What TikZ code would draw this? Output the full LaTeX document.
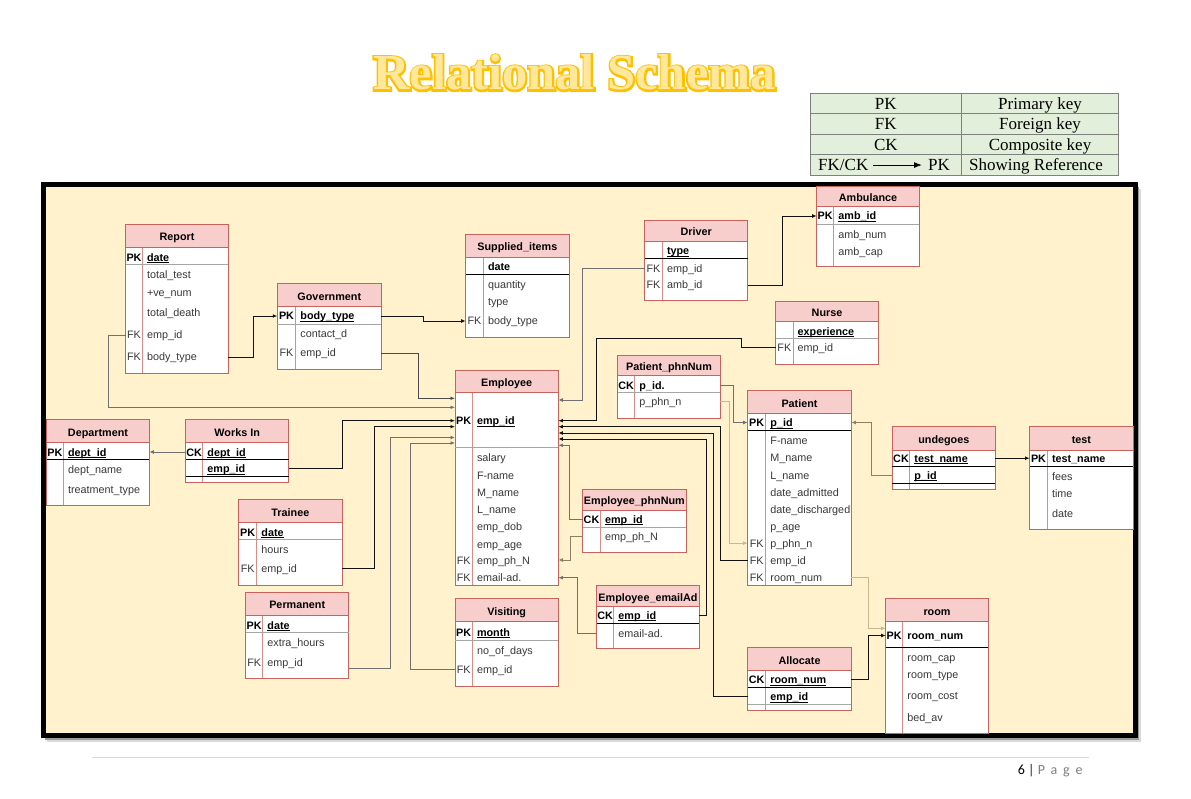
\documentclass[tikz,border=0pt]{standalone}
\usepackage{fontspec}
\setmainfont{Liberation Sans}
\newfontfamily\legendfont{Liberation Serif}
\newfontfamily\titlefill{Liberation Serif}
\newfontfamily\titleline{Liberation Serif}[BoldFeatures={FakeBold=7}]
\newfontfamily\pagefont{Carlito}
\usetikzlibrary{arrows.meta,calc}

\definecolor{hdrfill}{HTML}{F8CECC}
\definecolor{eborderc}{HTML}{C8625C}
\definecolor{edivc}{HTML}{D98C88}
\definecolor{txtgray}{HTML}{383838}
\definecolor{framefill}{HTML}{FFF2CC}
\definecolor{lgfill}{HTML}{E2EFDA}
\definecolor{lgline}{HTML}{7F7F7F}
\definecolor{ttlout}{HTML}{FFC000}
\definecolor{ttlin}{HTML}{FFE89C}
\definecolor{cblack}{HTML}{111111}
\definecolor{cdark}{HTML}{4A4A4A}
\definecolor{cgray}{HTML}{707070}
\definecolor{ctan}{HTML}{C9B98A}
\definecolor{cbrown}{HTML}{8C8063}
\definecolor{pggray}{HTML}{7F7F7F}
\definecolor{pgbar}{HTML}{1F1F50}
\definecolor{footc}{HTML}{D9D9D9}

\newcommand\efont{\fontsize{10.8}{12}\selectfont}
\newcommand\ul[1]{\setbox0=\hbox{#1}\rlap{\rule[-1.7pt]{\wd0}{0.7pt}}\box0}

\tikzset{
  ebox/.style={rectangle, fill=white, draw=none, inner sep=0pt, outer sep=0pt},
  eborder/.style={draw=eborderc, line width=0.8pt},
  ediv/.style={draw=edivc, line width=0.8pt},
  sepk/.style={draw=black, line width=0.9pt},
  sepg/.style={draw=black!35, line width=0.9pt},
  etitle/.style={anchor=base, inner sep=0pt, font=\efont\bfseries, text=black},
  kpk/.style={anchor=base, inner sep=0pt, font=\efont\bfseries, text=black},
  kfk/.style={anchor=base, inner sep=0pt, font=\efont, text=txtgray},
  pa/.style={anchor=base west, inner sep=0pt, font=\efont, text=txtgray},
  ka/.style={anchor=base west, inner sep=0pt, font=\efont\bfseries, text=black},
  conn/.style={line width=0.9pt, -{Latex[length=4.5pt,width=3.8pt]}},
  lgtxt/.style={anchor=base, inner sep=0pt, font=\legendfont\fontsize{17}{18}\selectfont},
}

% table: name, x1, y1, x2, y2, header bottom, divider x, title
\newcommand\etable[8]{%
  \gdef\curx{#2}\gdef\curd{#7}\gdef\curr{#4}%
  \node[ebox, anchor=north west, minimum width={#4-#2}, minimum height={#5-#3}] (#1) at (#2,#3) {};
  \fill[hdrfill] (#2,#3) rectangle (#4,#6);
  \draw[ediv] (#7,#6) -- (#7,#5);
  \draw[eborder] (#2,#3) rectangle (#4,#5);
  \draw[eborder] (#2,#6) -- (#4,#6);
  \node[etitle] (#1-t) at ({(#2+#4)/2},{(#3+#6)/2+5}) {#8};
}
\newcommand\esep[2]{\draw[#1] (\curx,#2) -- (\curr,#2);}
% row with key: id, y, key style, key text, attr style, attr text
\newcommand\krow[6]{%
  \coordinate (#1) at (\curd,#2);
  \node[#3] (#1-k) at ({(\curx+\curd)/2},{#2+4}) {#4};
  \node[#5] (#1-a) at ({\curd+4.5},{#2+4}) {#6};
}
% row without key: id, y, attr style, attr text
\newcommand\prow[4]{%
  \coordinate (#1) at (\curd,#2);
  \node[#3] (#1-a) at ({\curd+4.5},{#2+4}) {#4};
}

\begin{document}
\begin{tikzpicture}[x=1pt,y=-1pt]
\useasboundingbox (0,0) rectangle (1191,799);
\fill[white] (0,0) rectangle (1191,799);

% title
\node[anchor=base, inner sep=0pt, text=ttlout] (ttl-o) at (574.5,90) {\titleline\bfseries\fontsize{50.5}{52}\selectfont Relational Schema};
\node[anchor=base, inner sep=0pt, text=ttlin] (ttl) at (574.5,90) {\titlefill\bfseries\fontsize{50.5}{52}\selectfont Relational Schema};

% legend
\fill[lgfill] (810.3,93.7) rectangle (1118.7,175.3);
\draw[lgline, line width=1pt] (810.3,93.7) rectangle (1118.7,175.3)
  (961.3,93.7) -- (961.3,175.3)
  (810.3,113.7) -- (1118.7,113.7)
  (810.3,134.3) -- (1118.7,134.3)
  (810.3,154.7) -- (1118.7,154.7);
\node[lgtxt] (lg-pk) at (885.8,109.3) {PK};
\node[lgtxt] (lg-pkd) at (1040,109.3) {Primary key};
\node[lgtxt] (lg-fk) at (885.8,130) {FK};
\node[lgtxt] (lg-fkd) at (1040,130) {Foreign key};
\node[lgtxt] (lg-ck) at (885.8,150.3) {CK};
\node[lgtxt] (lg-ckd) at (1040,150.3) {Composite key};
\node[lgtxt, anchor=base west, text height=11.3pt, text depth=0pt] (lg-fkck) at (818,170.7) {FK/CK};
\node[lgtxt, anchor=base west, text height=11.3pt, text depth=0pt] (lg-ref) at (928,170.7) {PK};
\node[lgtxt] (lg-refd) at (1036,170.7) {Showing Reference};
\draw[line width=1pt, -{Latex[length=8pt,width=6pt]}, shorten <=5pt, shorten >=6pt] (lg-fkck.east) -- (lg-ref.west);

% frame
\fill[black!15] (47,189) rectangle (1141,742);
\fill[black!40] (45,187) rectangle (1139,740);
\fill[framefill] (43.5,184.5) rectangle (1135.5,735.5);
\draw[line width=5pt, black] (43.5,184.5) rectangle (1135.5,735.5);

% ---- tables ----
\etable{rpt}{125.7}{224.3}{228.3}{373.3}{247.7}{142.3}{Report}
\esep{sepg}{264.3}
\krow{rpt-date}{257.3}{kpk}{PK}{ka}{\ul{date}}
\prow{rpt-tt}{275}{pa}{total\_test}
\prow{rpt-ve}{292.3}{pa}{+ve\_num}
\prow{rpt-td}{312.3}{pa}{total\_death}
\krow{rpt-emp}{335}{kfk}{FK}{pa}{emp\_id}
\krow{rpt-body}{357}{kfk}{FK}{pa}{body\_type}

\etable{gov}{277.3}{283.7}{381.3}{369.3}{306.7}{295.7}{Government}
\esep{sepg}{324}
\krow{gov-body}{316}{kpk}{PK}{ka}{\ul{body\_type}}
\prow{gov-cd}{334}{pa}{contact\_d}
\krow{gov-emp}{353}{kfk}{FK}{pa}{emp\_id}

\etable{sup}{465.7}{234.3}{569}{337}{257.7}{483.3}{Supplied\_items}
\esep{sepk}{274.7}
\prow{sup-date}{267}{ka}{date}
\prow{sup-q}{284.3}{pa}{quantity}
\prow{sup-type}{301.7}{pa}{type}
\krow{sup-body}{321}{kfk}{FK}{pa}{body\_type}

\etable{drv}{644.7}{220.7}{747.7}{300.7}{241.3}{662.3}{Driver}
\esep{sepk}{258.7}
\prow{drv-type}{251}{ka}{\ul{type}}
\krow{drv-emp}{268.3}{kfk}{FK}{pa}{emp\_id}
\krow{drv-amb}{285}{kfk}{FK}{pa}{amb\_id}

\etable{amb}{816.7}{186.7}{919.3}{266}{206.7}{833.7}{Ambulance}
\esep{sepg}{224.3}
\krow{amb-id}{216}{kpk}{PK}{ka}{\ul{amb\_id}}
\prow{amb-num}{234.3}{pa}{amb\_num}
\prow{amb-cap}{251.3}{pa}{amb\_cap}

\etable{nur}{775.7}{301.3}{878.3}{364}{321.7}{793}{Nurse}
\esep{sepg}{338.7}
\prow{nur-exp}{331.3}{ka}{\ul{experience}}
\krow{nur-emp}{347.7}{kfk}{FK}{pa}{emp\_id}

\etable{ppn}{617.7}{355}{720.3}{418}{375.7}{634.7}{Patient\_phnNum}
\esep{sepg}{392.3}
\krow{ppn-pid}{385}{kpk}{CK}{ka}{p\_id.}
\prow{ppn-phn}{401.8}{pa}{p\_phn\_n}

\etable{emp}{455}{370}{558.3}{585}{392.7}{472.3}{Employee}
\esep{sepg}{447.7}
\krow{emp-id}{420.7}{kpk}{PK}{ka}{\ul{emp\_id}}
\prow{emp-sal}{457.7}{pa}{salary}
\prow{emp-fn}{475}{pa}{F-name}
\prow{emp-mn}{492.3}{pa}{M\_name}
\prow{emp-ln}{509.3}{pa}{L\_name}
\prow{emp-dob}{526.3}{pa}{emp\_dob}
\prow{emp-age}{544}{pa}{emp\_age}
\krow{emp-phn}{560}{kfk}{FK}{pa}{emp\_ph\_N}
\krow{emp-email}{577.7}{kfk}{FK}{pa}{email-ad.}

\etable{dep}{46.7}{419.3}{149.3}{505.3}{442.7}{63.3}{Department}
\esep{sepk}{459.3}
\krow{dep-id}{452}{kpk}{PK}{ka}{\ul{dept\_id}}
\prow{dep-name}{469.3}{pa}{dept\_name}
\prow{dep-tt}{489.3}{pa}{treatment\_type}

\etable{wrk}{185.7}{419.3}{288.7}{482}{442.7}{202.7}{Works In}
\esep{sepk}{459.3}
\esep{sepk}{476.7}
\krow{wrk-dept}{452}{kpk}{CK}{ka}{\ul{dept\_id}}
\prow{wrk-emp}{468.5}{ka}{\ul{emp\_id}}

\etable{trn}{238.7}{499.3}{342}{585}{522.7}{256.7}{Trainee}
\esep{sepg}{539.3}
\krow{trn-date}{532}{kpk}{PK}{ka}{\ul{date}}
\prow{trn-h}{549.3}{pa}{hours}
\krow{trn-emp}{568.7}{kfk}{FK}{pa}{emp\_id}

\etable{prm}{245.7}{592.3}{348.7}{678.3}{615.3}{262.7}{Permanent}
\esep{sepg}{632.3}
\krow{prm-date}{625}{kpk}{PK}{ka}{\ul{date}}
\prow{prm-eh}{642.3}{pa}{extra\_hours}
\krow{prm-emp}{662.3}{kfk}{FK}{pa}{emp\_id}

\etable{vis}{455}{598.3}{558.3}{686}{621.7}{472.3}{Visiting}
\esep{sepg}{640.3}
\krow{vis-month}{632}{kpk}{PK}{ka}{\ul{month}}
\prow{vis-nod}{650.3}{pa}{no\_of\_days}
\krow{vis-emp}{669}{kfk}{FK}{pa}{emp\_id}

\etable{eph}{582.7}{489.3}{686}{552.3}{510}{600.3}{Employee\_phnNum}
\esep{sepg}{527.3}
\krow{eph-emp}{519}{kpk}{CK}{ka}{\ul{emp\_id}}
\prow{eph-phn}{536}{pa}{emp\_ph\_N}

\etable{eem}{596.7}{585.7}{699.3}{648.3}{606.7}{613.7}{Employee\_emailAd}
\esep{sepk}{623.3}
\krow{eem-emp}{615.3}{kpk}{CK}{ka}{\ul{emp\_id}}
\prow{eem-email}{633}{pa}{email-ad.}

\etable{pat}{747.7}{390.7}{851.3}{585}{413.3}{765.7}{Patient}
\esep{sepk}{430.7}
\krow{pat-pid}{422.5}{kpk}{PK}{ka}{\ul{p\_id}}
\prow{pat-fn}{440.3}{pa}{F-name}
\prow{pat-mn}{457.7}{pa}{M\_name}
\prow{pat-ln}{475}{pa}{L\_name}
\prow{pat-da}{492}{pa}{date\_admitted}
\prow{pat-dd}{509.3}{pa}{date\_discharged}
\prow{pat-age}{526.7}{pa}{p\_age}
\krow{pat-phn}{543.2}{kfk}{FK}{pa}{p\_phn\_n}
\krow{pat-emp}{560}{kfk}{FK}{pa}{emp\_id}
\krow{pat-room}{577.5}{kfk}{FK}{pa}{room\_num}

\etable{und}{892.3}{426.7}{995.3}{489}{450}{909.7}{undegoes}
\esep{sepk}{466.7}
\esep{sepk}{483.7}
\krow{und-tn}{458.2}{kpk}{CK}{ka}{\ul{test\_name}}
\prow{und-pid}{475}{ka}{\ul{p\_id}}

\etable{tst}{1029.7}{426.7}{1133}{529.3}{450}{1047.3}{test}
\esep{sepk}{466.7}
\krow{tst-tn}{458.2}{kpk}{PK}{ka}{test\_name}
\prow{tst-fees}{476.3}{pa}{fees}
\prow{tst-time}{493.3}{pa}{time}
\prow{tst-date}{513.3}{pa}{date}

\etable{rom}{885.7}{598.7}{988.3}{733.3}{621.7}{902.7}{room}
\esep{sepk}{647.3}
\krow{rom-num}{635.5}{kpk}{PK}{ka}{room\_num}
\prow{rom-cap}{657.3}{pa}{room\_cap}
\prow{rom-type}{674.7}{pa}{room\_type}
\prow{rom-cost}{695}{pa}{room\_cost}
\prow{rom-bed}{717.7}{pa}{bed\_av}

\etable{alc}{747.7}{647.3}{851.3}{710}{670.7}{765.7}{Allocate}
\esep{sepk}{687.3}
\esep{sepg}{704.3}
\krow{alc-room}{679.7}{kpk}{CK}{ka}{\ul{room\_num}}
\prow{alc-emp}{696.5}{ka}{\ul{emp\_id}}

% ---- connectors ----
\draw[conn, cblack] (rpt.east |- rpt-body) -- ++(25,0) |- (gov.west |- gov-body);
\draw[conn, cgray] (rpt.west |- rpt-emp) -- ++(-17.4,0) |- ($(emp.north west)+(0,37.3)$);
\draw[conn, cblack] (gov.east |- gov-body) -- ++(42,0) |- (sup.west |- sup-body);
\draw[conn, cdark] (gov.east |- gov-emp) -- ++(37,0) |- ($(emp.north west)+(0,28.3)$);
\draw[conn, cgray] (wrk.west |- wrk-dept) -- (dep.east |- dep-id);
\draw[conn, cblack] (wrk.east |- wrk-emp) -- ++(53.6,0) |- (emp.west |- emp-id);
\draw[conn, cblack] (trn.east |- trn-emp) -- ++(32,0) |- ($(emp.north west)+(0,56.7)$);
\draw[conn, cgray] ($(prm.east |- prm-emp)+(0,6)$) -- ++(41.3,0) |- ($(emp.north west)+(0,67.5)$);
\draw[conn, cgray] (vis.west |- vis-emp) -- ++(-44.3,0) |- ($(emp.north west)+(0,73)$);
\draw[conn, cgray] (drv.west |- drv-emp) -- ++(-62,0) |- ($(emp.north east)+(0,30)$);
\draw[conn, cblack] (drv.east |- drv-amb) -- ++(34.6,0) |- (amb.west |- amb-id);
\draw[conn, cblack] (nur.west |- nur-emp) -- ++(-34.4,0) -- ++(0,-9) -- ++(-144.6,0) |- (emp.east |- emp-id);
\draw[conn, cgray] (ppn.east |- ppn-pid) -- ++(13.4,0) |- (pat.west |- pat-pid);
\draw[conn, ctan] (ppn.east |- ppn-phn) -- ++(8.7,0) |- (pat.west |- pat-phn);
\draw[conn, cblack] (pat.west |- pat-emp) -- ++(-27.4,0) |- ($(emp.north east)+(0,56.7)$);
\draw[conn, cblack] (alc.west |- alc-emp) -- ++(-34.4,0) |- ($(emp.north east)+(0,63)$);
\draw[conn, cblack] (eem.east |- eem-emp) -- ++(6.7,0) |- ($(emp.north east)+(0,69)$);
\draw[conn, cgray] (eph.west |- eph-emp) -- ++(-13.4,0) |- ($(emp.north east)+(0,75.3)$);
\draw[conn, cbrown] (eph.west |- eph-phn) -- ++(-12,0) |- (emp.east |- emp-phn);
\draw[conn, cgray] (eem.west |- eem-email) -- ++(-19,0) |- (emp.east |- emp-email);
\draw[conn, cbrown] (und.west |- und-pid) -- ++(-21,0) |- (pat.east |- pat-pid);
\draw[conn, cblack] (und.east |- und-tn) -- (tst.west |- tst-tn);
\draw[conn, ctan] (pat.east |- pat-room) -- ++(17,0) |- ($(rom.north west)+(0,29.6)$);
\draw[conn, cblack] (alc.east |- alc-room) -- ++(17,0) |- (rom.west |- rom-num);

% footer
\draw[footc, line width=1pt] (92.3,757) coordinate (ft-a) -- (1089,757) coordinate (ft-b);
\node[anchor=base west, inner sep=0pt, font=\pagefont\fontsize{14}{16}\selectfont] (pg) at (1017.7,774)
  {6 {\color{pgbar}|} {\color{pggray}\addfontfeature{LetterSpace=42}Page}};
\end{tikzpicture}
\end{document}
